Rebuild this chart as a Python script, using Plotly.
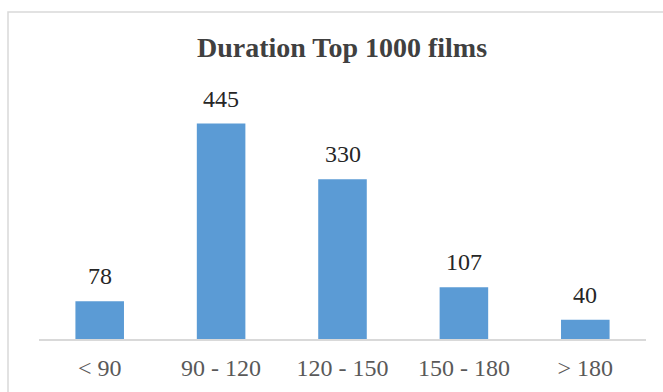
import plotly.graph_objects as go

# Film counts by running time (minutes)
categories = ["< 90", "90 - 120", "120 - 150", "150 - 180", "> 180"]
counts = [78, 445, 330, 107, 40]

W, H = 663, 392
ml, mr, mt, mb = 39, 17, 97, 53
pw = W - ml - mr
ph = H - mt - mb

fig = go.Figure()
fig.add_trace(go.Bar(
    x=categories, y=counts,
    marker=dict(color="#5B9BD5", line=dict(width=0)),
    hoverinfo="x+y",
))

# value labels above each bar
for c, v in zip(categories, counts):
    fig.add_annotation(
        x=c, y=v, text=str(v), showarrow=False,
        yanchor="bottom", yshift=10,
        font=dict(family="Liberation Serif", size=24, color="#262626"),
    )

# outer chart border
fig.add_shape(
    type="rect", xref="paper", yref="paper",
    x0=(8 - ml) / pw, x1=(W + 20 - ml) / pw,
    y0=-(H + 20 - (H - mb)) / ph, y1=(H - mb - 12) / ph,
    line=dict(color="#D9D9D9", width=1.5), fillcolor="rgba(0,0,0,0)",
    layer="below",
)

fig.update_layout(
    width=W, height=H,
    margin=dict(l=ml, r=mr, t=mt, b=mb, pad=0, autoexpand=False),
    paper_bgcolor="white", plot_bgcolor="white",
    bargap=0.6,
    showlegend=False,
    title=dict(
        text="<b>Duration Top 1000 films</b>",
        x=342 / W, xanchor="center",
        y=1 - 47 / H, yanchor="middle",
        font=dict(family="Liberation Serif", size=28, color="#404040"),
    ),
    xaxis=dict(
        showline=True, linecolor="#D9D9D9", linewidth=1.5,
        ticks="", showgrid=False, automargin=False,
        tickfont=dict(family="Liberation Serif", size=24, color="#595959"),
        ticklabelstandoff=6,
    ),
    yaxis=dict(
        range=[0, 500], visible=False, showgrid=False, zeroline=False,
        automargin=False,
    ),
)

fig.write_html("out.html")
